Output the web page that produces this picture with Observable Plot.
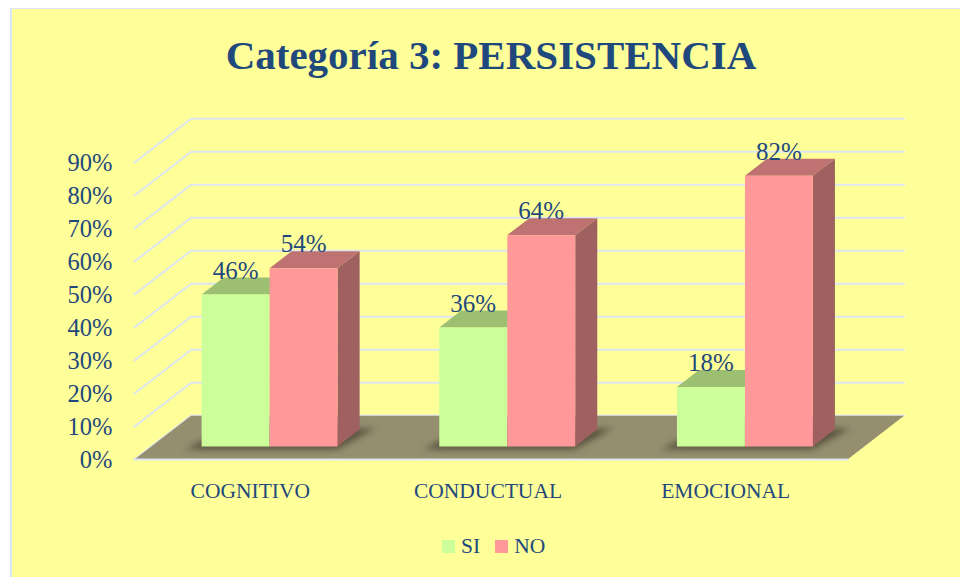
<!DOCTYPE html>
<html><head><meta charset="utf-8">
<script src="https://cdn.jsdelivr.net/npm/d3@7"></script>
<script src="https://cdn.jsdelivr.net/npm/@observablehq/plot@0.6"></script>
<style>
html,body{margin:0;padding:0;background:#fff;overflow:hidden}
#card{position:absolute;left:10px;top:8px;width:950px;height:569px;box-sizing:border-box;background:#FFFF99;border-left:2px solid #DCE6F2;border-top:1px solid #DCE6F2;font-family:"Liberation Serif",serif;color:#1F497D}
#title{height:91px;line-height:92px;text-align:center;font-size:41px;font-weight:bold;padding-left:10px;box-sizing:border-box;white-space:nowrap}
#legend{display:flex;position:absolute;top:526px;left:430px;align-items:center;font-size:21.5px;height:22px}
#legend span.s{display:inline-block;width:13px;height:13px;margin-right:6px}
#legend span.l{margin-right:15px}
svg{display:block;background:transparent}
</style></head><body>
<div id="card"><div id="title">Categoría 3: PERSISTENCIA</div><div id="chart"></div><div id="legend"></div></div>
<script>
const categories = ["COGNITIVO", "CONDUCTUAL", "EMOCIONAL"];
const seriesNames = ["SI", "NO"];
const si = [46, 36, 18];
const no = [54, 64, 82];
const yTicks = [0, 10, 20, 30, 40, 50, 60, 70, 80, 90];
const frontColors = ["#CCFF99", "#FF9999"];
const topColors = ["#9CBF72", "#BF7272"];
const sideColor = "#9F6060";

// oblique projection: position across a category, value, depth 0..1
const kx = 0.238, ky = 13.25;
const P = (c, v, z) => ({x: c + z * kx, y: v + z * ky});
const face = (pts, fill, extra = {}) => Plot.line(pts, {x: "x", y: "y", fill, stroke: "none", ...extra});

const barW = 0.286, barStart = 0.211, z0 = 0.3, z1 = 0.69;
const blur = (i, s, v, d, c, next) => { const g = next(i, s, v, d, c); g.style.filter = "blur(3px)"; return g; };

const marks = [];
// grid
for (const t of yTicks) {
  marks.push(Plot.line([P(0, t, 0), P(0, t, 1), P(3, t, 1)], {x: "x", y: "y", stroke: "#DCE6F2", strokeWidth: 2, curve: "linear"}));
}
// floor
marks.push(face([P(0, 0, 0), P(3, 0, 0), P(3, 0, 1), P(0, 0, 1)], "#958F70"));
marks.push(Plot.line([P(0, 0, 0), P(3, 0, 0)], {x: "x", y: "y", stroke: "#DCE6F2", strokeWidth: 2}));
// bars
categories.forEach((cat, i) => {
  const a = i + barStart, b = a + barW, c = b + barW;
  marks.push(face([P(a - 0.05, 0, z0 - 0.07), P(c + 0.015, 0, z0 - 0.07), P(c + 0.06, 0, z1 + 0.02), P(a, 0, z1 + 0.02)], "#5C5540", {render: blur}));
  [[si[i], a, 0], [no[i], b, 1]].forEach(([v, l, s]) => {
    const r = l + barW;
    marks.push(face([P(l, v, z0), P(r, v, z0), P(r, v, z1), P(l, v, z1)], topColors[s]));
    if (s === 1) marks.push(face([P(r, 0, z0), P(r, v, z0), P(r, v, z1), P(r, 0, z1)], sideColor));
    marks.push(face([P(l, 0, z0), P(r, 0, z0), P(r, v, z0), P(l, v, z0)], frontColors[s]));
  });
});
// value labels
const labels = categories.flatMap((cat, i) => [
  {...P(i + barStart + barW / 2, si[i], z0), t: si[i] + "%"},
  {...P(i + barStart + barW * 1.5, no[i], z0), t: no[i] + "%"}
]);
marks.push(Plot.text(labels, {x: "x", y: "y", text: "t", dy: -24, fontSize: 25, fill: "#1F497D"}));

marks.push(Plot.axisY({ticks: yTicks, tickFormat: d => d + "%", tickSize: 0, tickPadding: 22, dy: 1, fontSize: 24.5, color: "#1F497D", label: null}));
marks.push(Plot.axisX({ticks: [0.5, 1.5, 2.5], tickFormat: d => categories[Math.floor(d)], tickSize: 0, tickPadding: 23, dx: -3, fontSize: 21.5, color: "#1F497D", label: null}));

const plot = Plot.plot({
  width: 948, height: 425,
  marginLeft: 122, marginRight: 113, marginTop: 62, marginBottom: 66,
  x: {domain: [0, 3], axis: null},
  y: {domain: [0, 90], axis: null},
  style: {background: "transparent", fontFamily: '"Liberation Serif", serif', overflow: "visible"},
  marks
});
document.getElementById("chart").appendChild(plot);

const lg = document.getElementById("legend");
seriesNames.forEach((n, i) => {
  lg.insertAdjacentHTML("beforeend", `<span class="s" style="background:${frontColors[i]}"></span><span class="l">${n}</span>`);
});
</script></body></html>
